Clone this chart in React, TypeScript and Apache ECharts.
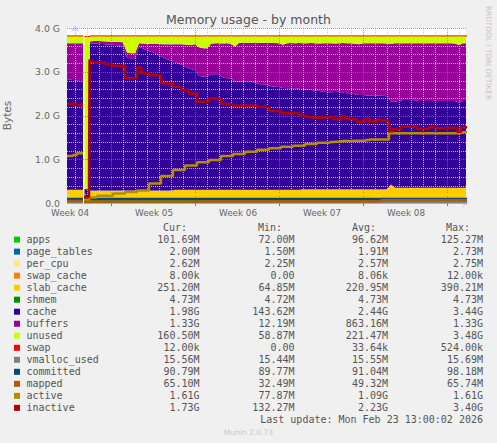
import React, { useEffect, useRef } from 'react';
import * as echarts from 'echarts';

// sample times in hours (0 = first daily grid line)
const HOURS = [
  -16, -8, 0, 8, 16, 17, 19, 24, 28, 30,
  32, 40, 48, 56, 64, 72, 80, 88, 96, 104,
  112, 120, 128, 136, 144, 152, 160, 168, 176, 184,
  192, 200, 208, 216, 224, 232, 240, 248, 256, 264,
  272, 280, 288, 296, 304, 312, 320, 328, 336, 344,
  352, 360, 368, 376, 384, 392, 400, 408, 416, 424,
  432, 440, 448, 456, 464, 472, 480, 488, 496, 504,
  512, 520, 528, 536, 544, 552, 560, 568, 576, 584,
  592, 600, 608, 616, 624, 632, 640, 648, 656, 664,
  672, 680, 688, 696, 704, 712, 720, 728, 736, 744,
  752, 760, 768, 776, 784,
];

// values in GiB
const APPS = [
  0.094, 0.094, 0.094, 0.094, 0.094, null, 0.071, 0.071, 0.071, 0.088,
  0.088, 0.088, 0.088, 0.088, 0.088, 0.088, 0.088, 0.088, 0.088, 0.088,
  0.088, 0.088, 0.088, 0.088, 0.088, 0.088, 0.088, 0.088, 0.088, 0.088,
  0.088, 0.088, 0.088, 0.088, 0.088, 0.088, 0.088, 0.088, 0.088, 0.088,
  0.088, 0.094, 0.094, 0.094, 0.094, 0.094, 0.094, 0.094, 0.094, 0.094,
  0.094, 0.094, 0.094, 0.094, 0.094, 0.094, 0.094, 0.094, 0.094, 0.094,
  0.094, 0.094, 0.094, 0.094, 0.094, 0.094, 0.094, 0.094, 0.094, 0.094,
  0.094, 0.094, 0.094, 0.094, 0.094, 0.094, 0.094, 0.094, 0.094, 0.094,
  0.094, 0.094, 0.094, 0.094, 0.099, 0.099, 0.099, 0.099, 0.099, 0.099,
  0.099, 0.099, 0.099, 0.099, 0.099, 0.099, 0.099, 0.099, 0.099, 0.099,
  0.099, 0.099, 0.099, 0.099, 0.099,
];
const PAGE_TABLES = [
  0.002, 0.002, 0.002, 0.002, 0.002, null, 0.0015, 0.0015, 0.0015, 0.002,
  0.002, 0.002, 0.002, 0.002, 0.002, 0.002, 0.002, 0.002, 0.002, 0.002,
  0.002, 0.002, 0.002, 0.002, 0.002, 0.002, 0.002, 0.002, 0.002, 0.002,
  0.002, 0.002, 0.002, 0.002, 0.002, 0.002, 0.002, 0.002, 0.002, 0.002,
  0.002, 0.002, 0.002, 0.002, 0.002, 0.002, 0.002, 0.002, 0.002, 0.002,
  0.002, 0.002, 0.002, 0.002, 0.002, 0.002, 0.002, 0.002, 0.002, 0.002,
  0.002, 0.002, 0.002, 0.002, 0.002, 0.002, 0.002, 0.002, 0.002, 0.002,
  0.002, 0.002, 0.002, 0.002, 0.002, 0.002, 0.002, 0.002, 0.002, 0.002,
  0.002, 0.002, 0.002, 0.002, 0.002, 0.002, 0.002, 0.002, 0.002, 0.002,
  0.002, 0.002, 0.002, 0.002, 0.002, 0.002, 0.002, 0.002, 0.002, 0.002,
  0.002, 0.002, 0.002, 0.002, 0.002,
];
const PER_CPU = [
  0.0026, 0.0026, 0.0026, 0.0026, 0.0026, null, 0.0022, 0.0022, 0.0022, 0.0026,
  0.0026, 0.0026, 0.0026, 0.0026, 0.0026, 0.0026, 0.0026, 0.0026, 0.0026, 0.0026,
  0.0026, 0.0026, 0.0026, 0.0026, 0.0026, 0.0026, 0.0026, 0.0026, 0.0026, 0.0026,
  0.0026, 0.0026, 0.0026, 0.0026, 0.0026, 0.0026, 0.0026, 0.0026, 0.0026, 0.0026,
  0.0026, 0.0026, 0.0026, 0.0026, 0.0026, 0.0026, 0.0026, 0.0026, 0.0026, 0.0026,
  0.0026, 0.0026, 0.0026, 0.0026, 0.0026, 0.0026, 0.0026, 0.0026, 0.0026, 0.0026,
  0.0026, 0.0026, 0.0026, 0.0026, 0.0026, 0.0026, 0.0026, 0.0026, 0.0026, 0.0026,
  0.0026, 0.0026, 0.0026, 0.0026, 0.0026, 0.0026, 0.0026, 0.0026, 0.0026, 0.0026,
  0.0026, 0.0026, 0.0026, 0.0026, 0.0026, 0.0026, 0.0026, 0.0026, 0.0026, 0.0026,
  0.0026, 0.0026, 0.0026, 0.0026, 0.0026, 0.0026, 0.0026, 0.0026, 0.0026, 0.0026,
  0.0026, 0.0026, 0.0026, 0.0026, 0.0026,
];
const SWAP_CACHE = [
  0.00001, 0.00001, 0.00001, 0.00001, 0.00001, null, 0, 0, 0, 0.00001,
  0.00001, 0.00001, 0.00001, 0.00001, 0.00001, 0.00001, 0.00001, 0.00001, 0.00001, 0.00001,
  0.00001, 0.00001, 0.00001, 0.00001, 0.00001, 0.00001, 0.00001, 0.00001, 0.00001, 0.00001,
  0.00001, 0.00001, 0.00001, 0.00001, 0.00001, 0.00001, 0.00001, 0.00001, 0.00001, 0.00001,
  0.00001, 0.00001, 0.00001, 0.00001, 0.00001, 0.00001, 0.00001, 0.00001, 0.00001, 0.00001,
  0.00001, 0.00001, 0.00001, 0.00001, 0.00001, 0.00001, 0.00001, 0.00001, 0.00001, 0.00001,
  0.00001, 0.00001, 0.00001, 0.00001, 0.00001, 0.00001, 0.00001, 0.00001, 0.00001, 0.00001,
  0.00001, 0.00001, 0.00001, 0.00001, 0.00001, 0.00001, 0.00001, 0.00001, 0.00001, 0.00001,
  0.00001, 0.00001, 0.00001, 0.00001, 0.00001, 0.00001, 0.00001, 0.00001, 0.00001, 0.00001,
  0.00001, 0.00001, 0.00001, 0.00001, 0.00001, 0.00001, 0.00001, 0.00001, 0.00001, 0.00001,
  0.00001, 0.00001, 0.00001, 0.00001, 0.00001,
];
const SLAB_CACHE = [
  0.198, 0.198, 0.198, 0.198, 0.198, null, 0.063, 0.063, 0.063, 0.190,
  0.190, 0.190, 0.190, 0.190, 0.190, 0.190, 0.190, 0.190, 0.190, 0.190,
  0.190, 0.190, 0.190, 0.190, 0.190, 0.190, 0.190, 0.190, 0.190, 0.190,
  0.190, 0.204, 0.204, 0.204, 0.204, 0.204, 0.204, 0.204, 0.204, 0.204,
  0.204, 0.198, 0.198, 0.198, 0.198, 0.198, 0.198, 0.198, 0.198, 0.198,
  0.198, 0.198, 0.198, 0.198, 0.198, 0.198, 0.198, 0.198, 0.198, 0.198,
  0.198, 0.198, 0.198, 0.211, 0.211, 0.211, 0.211, 0.211, 0.211, 0.211,
  0.211, 0.211, 0.211, 0.211, 0.211, 0.211, 0.211, 0.211, 0.211, 0.211,
  0.211, 0.211, 0.211, 0.211, 0.211, 0.316, 0.240, 0.240, 0.240, 0.240,
  0.240, 0.240, 0.240, 0.240, 0.240, 0.240, 0.240, 0.240, 0.240, 0.240,
  0.240, 0.240, 0.240, 0.240, 0.240,
];
const SHMEM = [
  0.0046, 0.0046, 0.0046, 0.0046, 0.0046, null, 0.0045, 0.0045, 0.0045, 0.0046,
  0.0046, 0.0046, 0.0046, 0.0046, 0.0046, 0.0046, 0.0046, 0.0046, 0.0046, 0.0046,
  0.0046, 0.0046, 0.0046, 0.0046, 0.0046, 0.0046, 0.0046, 0.0046, 0.0046, 0.0046,
  0.0046, 0.0046, 0.0046, 0.0046, 0.0046, 0.0046, 0.0046, 0.0046, 0.0046, 0.0046,
  0.0046, 0.0046, 0.0046, 0.0046, 0.0046, 0.0046, 0.0046, 0.0046, 0.0046, 0.0046,
  0.0046, 0.0046, 0.0046, 0.0046, 0.0046, 0.0046, 0.0046, 0.0046, 0.0046, 0.0046,
  0.0046, 0.0046, 0.0046, 0.0046, 0.0046, 0.0046, 0.0046, 0.0046, 0.0046, 0.0046,
  0.0046, 0.0046, 0.0046, 0.0046, 0.0046, 0.0046, 0.0046, 0.0046, 0.0046, 0.0046,
  0.0046, 0.0046, 0.0046, 0.0046, 0.0046, 0.0046, 0.0046, 0.0046, 0.0046, 0.0046,
  0.0046, 0.0046, 0.0046, 0.0046, 0.0046, 0.0046, 0.0046, 0.0046, 0.0046, 0.0046,
  0.0046, 0.0046, 0.0046, 0.0046, 0.0046,
];
const CACHE = [
  2.525, 2.516, 2.503, 2.487, 2.480, null, 0.17, 0.17, 0.17, 3.358,
  3.358, 3.358, 3.346, 3.346, 3.335, 3.335, 3.323, 3.312, 3.289, 3.032,
  3.019, 3.019, 3.285, 3.242, 3.207, 3.172, 3.137, 3.082, 3.042, 2.997,
  2.962, 2.914, 2.883, 2.848, 2.798, 2.763, 2.738, 2.601, 2.588, 2.598,
  2.640, 2.640, 2.640, 2.568, 2.548, 2.548, 2.471, 2.471, 2.471, 2.488,
  2.471, 2.443, 2.411, 2.411, 2.398, 2.368, 2.358, 2.348, 2.328, 2.320,
  2.320, 2.320, 2.313, 2.285, 2.275, 2.268, 2.260, 2.245, 2.230, 2.215,
  2.215, 2.225, 2.229, 2.205, 2.192, 2.192, 2.165, 2.154, 2.154, 2.145,
  2.138, 2.138, 2.138, 2.138, 2.120, 1.890, 1.966, 1.981, 2.005, 2.005,
  2.005, 2.001, 1.982, 1.982, 1.982, 1.982, 1.986, 1.982, 1.982, 1.982,
  1.982, 1.982, 1.951, 1.982, 1.982,
];
const BUFFERS = [
  0.823, 0.832, 0.845, 0.861, 0.868, null, 0.012, 0.012, 0.012, 0.044,
  0.054, 0.057, 0.069, 0.066, 0.067, 0.064, 0.076, 0.080, 0.096, 0.120,
  0.115, 0.115, 0.077, 0.115, 0.145, 0.175, 0.215, 0.265, 0.300, 0.342,
  0.380, 0.411, 0.445, 0.477, 0.520, 0.550, 0.587, 0.657, 0.646, 0.640,
  0.698, 0.708, 0.708, 0.775, 0.800, 0.790, 0.807, 0.887, 0.887, 0.875,
  0.892, 0.915, 0.952, 0.947, 0.965, 0.990, 1.000, 1.005, 0.990, 1.033,
  1.038, 1.033, 1.045, 1.050, 1.065, 1.077, 1.075, 1.085, 1.110, 1.125,
  1.120, 1.105, 1.111, 1.140, 1.148, 1.143, 1.160, 1.158, 1.181, 1.195,
  1.202, 1.197, 1.202, 1.197, 1.205, 1.325, 1.335, 1.325, 1.296, 1.301,
  1.296, 1.305, 1.319, 1.324, 1.319, 1.324, 1.315, 1.324, 1.319, 1.324,
  1.319, 1.314, 1.310, 1.319, 1.319,
];
const UNUSED = [
  0.170, 0.170, 0.170, 0.170, 0.170, null, 3.48, 3.48, 3.48, 0.130,
  0.120, 0.117, 0.117, 0.120, 0.130, 0.133, 0.133, 0.140, 0.147, 0.380,
  0.398, 0.398, 0.170, 0.175, 0.180, 0.185, 0.180, 0.185, 0.190, 0.193,
  0.190, 0.193, 0.190, 0.193, 0.200, 0.205, 0.193, 0.260, 0.284, 0.280,
  0.180, 0.170, 0.170, 0.175, 0.170, 0.180, 0.240, 0.160, 0.160, 0.155,
  0.155, 0.160, 0.155, 0.160, 0.155, 0.160, 0.160, 0.165, 0.200, 0.165,
  0.160, 0.165, 0.160, 0.170, 0.165, 0.160, 0.170, 0.175, 0.165, 0.165,
  0.170, 0.175, 0.165, 0.160, 0.165, 0.170, 0.180, 0.193, 0.170, 0.165,
  0.165, 0.170, 0.165, 0.170, 0.175, 0.180, 0.170, 0.165, 0.170, 0.165,
  0.170, 0.165, 0.170, 0.165, 0.170, 0.165, 0.170, 0.165, 0.170, 0.165,
  0.170, 0.175, 0.210, 0.170, 0.170,
];
const SWAP = [
  0.00001, 0.00001, 0.00001, 0.00001, 0.00001, null, 0, 0, 0, 0.00001,
  0.00001, 0.00001, 0.00001, 0.00001, 0.00001, 0.00001, 0.00001, 0.00001, 0.00001, 0.00001,
  0.00001, 0.00001, 0.00001, 0.00001, 0.00001, 0.00001, 0.00001, 0.00001, 0.00001, 0.00001,
  0.00001, 0.00001, 0.00001, 0.00001, 0.00001, 0.00001, 0.00001, 0.00001, 0.00001, 0.00001,
  0.00001, 0.00001, 0.00001, 0.00001, 0.00001, 0.00001, 0.00001, 0.00001, 0.00001, 0.00001,
  0.00001, 0.00001, 0.00001, 0.00001, 0.00001, 0.00001, 0.00001, 0.00001, 0.00001, 0.00001,
  0.00001, 0.00001, 0.00001, 0.00001, 0.00001, 0.00001, 0.00001, 0.00001, 0.00001, 0.00001,
  0.00001, 0.00001, 0.00001, 0.00001, 0.00001, 0.00001, 0.00001, 0.00001, 0.00001, 0.00001,
  0.00001, 0.00001, 0.00001, 0.00001, 0.00001, 0.00001, 0.00001, 0.00001, 0.00001, 0.00001,
  0.00001, 0.00001, 0.00001, 0.00001, 0.00001, 0.00001, 0.00001, 0.00001, 0.00001, 0.00001,
  0.00001, 0.00001, 0.00001, 0.00001, 0.00001,
];
const VMALLOC_USED = [
  0.0152, 0.0152, 0.0152, 0.0152, 0.0152, null, 0.0151, 0.0151, 0.0151, 0.0152,
  0.0152, 0.0152, 0.0152, 0.0152, 0.0152, 0.0152, 0.0152, 0.0152, 0.0152, 0.0152,
  0.0152, 0.0152, 0.0152, 0.0152, 0.0152, 0.0152, 0.0152, 0.0152, 0.0152, 0.0152,
  0.0152, 0.0152, 0.0152, 0.0152, 0.0152, 0.0152, 0.0152, 0.0152, 0.0152, 0.0152,
  0.0152, 0.0152, 0.0152, 0.0152, 0.0152, 0.0152, 0.0152, 0.0152, 0.0152, 0.0152,
  0.0152, 0.0152, 0.0152, 0.0152, 0.0152, 0.0152, 0.0152, 0.0152, 0.0152, 0.0152,
  0.0152, 0.0152, 0.0152, 0.0152, 0.0152, 0.0152, 0.0152, 0.0152, 0.0152, 0.0152,
  0.0152, 0.0152, 0.0152, 0.0152, 0.0152, 0.0152, 0.0152, 0.0152, 0.0152, 0.0152,
  0.0152, 0.0152, 0.0152, 0.0152, 0.0152, 0.0152, 0.0152, 0.0152, 0.0152, 0.0152,
  0.0152, 0.0152, 0.0152, 0.0152, 0.0152, 0.0152, 0.0152, 0.0152, 0.0152, 0.0152,
  0.0152, 0.0152, 0.0152, 0.0152, 0.0152,
];
const COMMITTED = [
  0.0887, 0.0887, 0.0887, 0.0887, 0.0887, null, 0.0935, 0.0935, 0.0935, 0.0887,
  0.0887, 0.0887, 0.0887, 0.0887, 0.0887, 0.0887, 0.0887, 0.0887, 0.0887, 0.0887,
  0.0887, 0.0887, 0.0887, 0.0887, 0.0887, 0.0887, 0.0887, 0.0887, 0.0887, 0.0887,
  0.0887, 0.0887, 0.0887, 0.0887, 0.0887, 0.0887, 0.0887, 0.0887, 0.0887, 0.0887,
  0.0887, 0.0887, 0.0887, 0.0887, 0.0887, 0.0887, 0.0887, 0.0887, 0.0887, 0.0887,
  0.0887, 0.0887, 0.0887, 0.0887, 0.0887, 0.0887, 0.0887, 0.0887, 0.0887, 0.0887,
  0.0887, 0.0887, 0.0887, 0.0887, 0.0887, 0.0887, 0.0887, 0.0887, 0.0887, 0.0887,
  0.0887, 0.0887, 0.0887, 0.0887, 0.0887, 0.0887, 0.0887, 0.0887, 0.0887, 0.0887,
  0.0887, 0.0887, 0.0887, 0.0887, 0.0887, 0.0887, 0.0887, 0.0887, 0.0887, 0.0887,
  0.0887, 0.0887, 0.0887, 0.0887, 0.0887, 0.0887, 0.0887, 0.0887, 0.0887, 0.0887,
  0.0887, 0.0887, 0.0887, 0.0887, 0.0887,
];
const MAPPED = [
  0.046, 0.046, 0.046, 0.046, 0.046, null, 0.031, 0.031, 0.031, 0.033,
  0.033, 0.033, 0.033, 0.033, 0.033, 0.033, 0.033, 0.033, 0.033, 0.033,
  0.033, 0.033, 0.033, 0.033, 0.033, 0.033, 0.033, 0.033, 0.033, 0.033,
  0.033, 0.033, 0.033, 0.033, 0.033, 0.033, 0.033, 0.042, 0.042, 0.042,
  0.042, 0.042, 0.042, 0.042, 0.042, 0.042, 0.042, 0.042, 0.042, 0.042,
  0.042, 0.042, 0.042, 0.042, 0.042, 0.042, 0.042, 0.042, 0.042, 0.042,
  0.042, 0.042, 0.042, 0.042, 0.042, 0.042, 0.042, 0.042, 0.042, 0.042,
  0.042, 0.042, 0.042, 0.042, 0.042, 0.042, 0.042, 0.042, 0.042, 0.042,
  0.042, 0.042, 0.042, 0.0635, 0.0635, 0.0635, 0.0635, 0.0635, 0.0635, 0.0635,
  0.0635, 0.0635, 0.0635, 0.0635, 0.0635, 0.0635, 0.0635, 0.0635, 0.0635, 0.0635,
  0.0635, 0.0635, 0.0635, 0.0635, 0.0635,
];
const ACTIVE = [
  1.074, 1.074, 1.097, 1.136, 1.136, null, 0.078, 0.078, 0.078, 0.126,
  0.126, 0.126, 0.167, 0.167, 0.167, 0.167, 0.220, 0.220, 0.220, 0.250,
  0.250, 0.250, 0.285, 0.285, 0.285, 0.446, 0.446, 0.446, 0.617, 0.617,
  0.617, 0.754, 0.754, 0.754, 0.857, 0.857, 0.857, 0.930, 0.930, 0.930,
  0.983, 0.983, 0.983, 1.074, 1.074, 1.074, 1.120, 1.120, 1.120, 1.170,
  1.170, 1.170, 1.220, 1.220, 1.220, 1.250, 1.250, 1.250, 1.287, 1.287,
  1.287, 1.310, 1.310, 1.310, 1.350, 1.350, 1.350, 1.380, 1.380, 1.380,
  1.394, 1.400, 1.400, 1.417, 1.417, 1.417, 1.424, 1.424, 1.424, 1.440,
  1.450, 1.450, 1.450, 1.450, 1.450, 1.593, 1.593, 1.593, 1.593, 1.593,
  1.593, 1.593, 1.593, 1.593, 1.593, 1.593, 1.593, 1.593, 1.593, 1.593,
  1.593, 1.593, 1.593, 1.616, 1.616,
];
const INACTIVE = [
  2.270, 2.270, 2.263, 2.240, 2.224, null, 0.130, 0.130, 0.132, 3.270,
  3.223, 3.207, 3.207, 3.207, 3.170, 3.170, 3.138, 3.138, 3.138, 2.850,
  2.850, 2.860, 3.100, 2.965, 2.965, 2.926, 2.926, 2.926, 2.736, 2.736,
  2.736, 2.658, 2.658, 2.583, 2.583, 2.491, 2.507, 2.315, 2.315, 2.315,
  2.393, 2.393, 2.393, 2.270, 2.260, 2.260, 2.224, 2.224, 2.224, 2.224,
  2.224, 2.224, 2.201, 2.201, 2.201, 2.103, 2.103, 2.103, 2.050, 2.050,
  2.050, 2.050, 2.034, 2.000, 1.970, 1.955, 1.955, 1.955, 1.960, 1.960,
  1.970, 1.913, 1.913, 1.970, 1.920, 1.920, 1.910, 1.858, 1.858, 1.930,
  1.858, 1.858, 1.910, 1.881, 1.880, 1.640, 1.691, 1.691, 1.744, 1.744,
  1.744, 1.744, 1.691, 1.691, 1.691, 1.730, 1.730, 1.707, 1.707, 1.721,
  1.721, 1.721, 1.630, 1.730, 1.730,
];

const NAMES = ['apps', 'page_tables', 'per_cpu', 'swap_cache', 'slab_cache', 'shmem', 'cache', 'buffers', 'unused', 'swap', 'vmalloc_used', 'committed', 'mapped', 'active', 'inactive'];
const COLORS = ['#00cc00', '#0066b3', '#ffe680', '#ff8000', '#ffcc00', '#008f00', '#330099', '#990099', '#ccff00', '#ff0000', '#808080', '#00487d', '#b35a00', '#b38f00', '#b30000'];
const CUR = ['101.69M', '2.00M', '2.62M', '8.00k', '251.20M', '4.73M', '1.98G', '1.33G', '160.50M', '12.00k', '15.56M', '90.79M', '65.10M', '1.61G', '1.73G'];
const MIN = ['72.00M', '1.50M', '2.25M', '0.00', '64.85M', '4.72M', '143.62M', '12.19M', '58.87M', '0.00', '15.44M', '89.77M', '32.49M', '77.87M', '132.27M'];
const AVG = ['96.62M', '1.91M', '2.57M', '8.06k', '220.95M', '4.73M', '2.44G', '863.16M', '221.47M', '33.64k', '15.55M', '91.04M', '49.32M', '1.09G', '2.23G'];
const MAX = ['125.27M', '2.73M', '2.75M', '12.00k', '390.21M', '4.73M', '3.44G', '1.33G', '3.48G', '524.00k', '15.69M', '98.18M', '65.74M', '1.61G', '3.40G'];
const HEADERS = ['Cur:', 'Min:', 'Avg:', 'Max:'];

const WEEK_LABEL_HOURS = [-10, 158, 326, 494, 662];
const WEEK_LABELS = ['Week 04', 'Week 05', 'Week 06', 'Week 07', 'Week 08'];
const WEEK_HOURS = [72, 240, 408, 576, 744];
const DAY_HOURS = [0, 24, 48, 96, 120, 144, 168, 192, 216, 264, 288, 312, 336, 360, 384, 432, 456, 480, 504, 528, 552, 600, 624, 648, 672, 696, 720, 768];
const Y_MINOR = [0.2, 0.4, 0.6, 0.8, 1.2, 1.4, 1.6, 1.8, 2.2, 2.4, 2.6, 2.8, 3.2, 3.4, 3.6, 3.8];
const Y_MAJOR = [1, 2, 3, 4];

const TITLE = 'Memory usage - by month';
const LAST_UPDATE = 'Last update: Mon Feb 23 13:00:02 2026';
const WATERMARK = 'RRDTOOL / TOBI OETIKER';
const FOOTER = 'Munin 2.0.73';

const STACKED = [APPS, PAGE_TABLES, PER_CPU, SWAP_CACHE, SLAB_CACHE, SHMEM, CACHE, BUFFERS, UNUSED, SWAP];
const LINES = [VMALLOC_USED, COMMITTED, MAPPED, ACTIVE, INACTIVE];

const SANS = '"DejaVu Sans", sans-serif';
const MONO = '"DejaVu Sans Mono", monospace';
const Y_MIN = 0;
const Y_MAX = 4;
const X_MIN = -16;
const X_MAX = 782;

const GRID_MINOR = 'rgba(205,205,205,0.9)';
const GRID_MAJOR = 'rgba(255,70,70,0.75)';

// value first, time second: the stack is then computed on the value dimension
function pairs(arr: (number | null)[]) {
  return HOURS.map((h, i) => [arr[i] == null ? '-' : arr[i], h]);
}
const ENCODE = { x: 1, y: 0 };

function buildOption() {
  const series: any[] = [];
  STACKED.forEach((arr, i) => {
    const isSwap = NAMES[i] === 'swap';
    series.push({
      name: NAMES[i],
      type: 'line',
      stack: 'mem',
      data: pairs(arr),
      encode: ENCODE,
      symbol: 'none',
      showSymbol: false,
      connectNulls: false,
      silent: true,
      z: 2,
      lineStyle: isSwap ? { width: 1, color: COLORS[i] } : { width: 0, color: COLORS[i] },
      areaStyle: { color: COLORS[i], opacity: 1 },
    });
  });

  // vertical grid (days / weeks), drawn over the areas like rrdtool does
  const vData = [...DAY_HOURS.map((h) => [h, 0]), ...WEEK_HOURS.map((h) => [h, 1])];
  series.push({
    name: 'vgrid',
    type: 'custom',
    coordinateSystem: 'cartesian2d',
    silent: true,
    z: 3,
    encode: { x: 0 },
    data: vData,
    renderItem: (params: any, api: any) => {
      const h = api.value(0);
      const major = api.value(1) === 1;
      const top = api.coord([h, Y_MAX]);
      const bot = api.coord([h, Y_MIN]);
      const x = Math.round(bot[0]) + 0.5;
      const children: any[] = [
        { type: 'line', shape: { x1: x, y1: top[1], x2: x, y2: bot[1] }, style: { stroke: major ? GRID_MAJOR : GRID_MINOR, lineWidth: 1, lineDash: [1, 1] } },
      ];
      if (major) {
        children.push({ type: 'line', shape: { x1: x, y1: bot[1], x2: x, y2: bot[1] + 3 }, style: { stroke: '#ff4040', lineWidth: 1 } });
      }
      return { type: 'group', children };
    },
  });
  // horizontal grid
  const hData = [...Y_MINOR.map((v) => [X_MIN, v, 0]), ...Y_MAJOR.map((v) => [X_MIN, v, 1])];
  series.push({
    name: 'hgrid',
    type: 'custom',
    coordinateSystem: 'cartesian2d',
    silent: true,
    z: 3,
    encode: { x: 0, y: 1 },
    data: hData,
    renderItem: (params: any, api: any) => {
      const v = api.value(1);
      const major = api.value(2) === 1;
      const l = api.coord([X_MIN, v]);
      const r = api.coord([X_MAX, v]);
      const y = Math.round(l[1]) + 0.5;
      return { type: 'line', shape: { x1: l[0], y1: y, x2: r[0], y2: y }, style: { stroke: major ? GRID_MAJOR : GRID_MINOR, lineWidth: 1, lineDash: [1, 1] } };
    },
  });

  LINES.forEach((arr, j) => {
    const i = STACKED.length + j;
    series.push({
      name: NAMES[i],
      type: 'line',
      data: pairs(arr),
      encode: ENCODE,
      symbol: 'none',
      showSymbol: false,
      connectNulls: false,
      step: 'middle',
      silent: true,
      z: 4,
      lineStyle: { width: 2.5, color: COLORS[i] },
    });
  });

  const graphic: any[] = [];
  graphic.push({
    type: 'text', x: 248.5, y: 19,
    style: { text: TITLE, font: `12.5px ${SANS}`, fill: '#555555', align: 'center', verticalAlign: 'middle', textAlign: 'center', textVerticalAlign: 'middle' },
  });
  graphic.push({
    type: 'text', x: 488, y: 53, rotation: -Math.PI / 2,
    style: { text: WATERMARK, font: `7.3px ${SANS}`, fill: '#c4c4c4', align: 'center', verticalAlign: 'middle', textAlign: 'center', textVerticalAlign: 'middle' },
  });

  const colRight = [199.5, 294.5, 388, 483];
  const headRight = [187, 282, 376, 470];
  HEADERS.forEach((h, k) => {
    graphic.push({
      type: 'text', x: headRight[k], y: 227.5,
      style: { text: h, font: `10px ${MONO}`, fill: '#555555', align: 'right', verticalAlign: 'middle', textAlign: 'right', textVerticalAlign: 'middle' },
    });
  });
  NAMES.forEach((n, i) => {
    const y = 239.6 + i * 12.02;
    graphic.push({ type: 'rect', shape: { x: 14, y: y - 3, width: 6, height: 6 }, style: { fill: COLORS[i] } });
    graphic.push({
      type: 'text', x: 26.5, y,
      style: { text: n, font: `10px ${MONO}`, fill: '#555555', align: 'left', verticalAlign: 'middle', textAlign: 'left', textVerticalAlign: 'middle' },
    });
    [CUR[i], MIN[i], AVG[i], MAX[i]].forEach((v, k) => {
      graphic.push({
        type: 'text', x: colRight[k], y,
        style: { text: v, font: `10px ${MONO}`, fill: '#555555', align: 'right', verticalAlign: 'middle', textAlign: 'right', textVerticalAlign: 'middle' },
      });
    });
  });
  graphic.push({
    type: 'text', x: 483, y: 419.5,
    style: { text: LAST_UPDATE, font: `10px ${MONO}`, fill: '#555555', align: 'right', verticalAlign: 'middle', textAlign: 'right', textVerticalAlign: 'middle' },
  });
  graphic.push({
    type: 'text', x: 248.5, y: 432,
    style: { text: FOOTER, font: `7.5px ${SANS}`, fill: '#c8c8c8', align: 'center', verticalAlign: 'middle', textAlign: 'center', textVerticalAlign: 'middle' },
  });

  return {
    animation: false,
    backgroundColor: '#f0f0f0',
    textStyle: { fontFamily: SANS },
    grid: { left: 67, top: 28, width: 399, height: 175, show: true, backgroundColor: '#ffffff', borderWidth: 0, containLabel: false, outerBoundsMode: 'none' },
    xAxis: {
      type: 'value',
      min: X_MIN,
      max: X_MAX,
      axisLine: { show: true, onZero: false, lineStyle: { color: '#CFD6F8', width: 1 }, symbol: ['none', 'arrow'], symbolSize: [7, 7], symbolOffset: [0, 3] },
      axisTick: { show: false },
      axisLabel: {
        show: true,
        customValues: WEEK_LABEL_HOURS,
        formatter: (v: number) => {
          const k = WEEK_LABEL_HOURS.indexOf(Math.round(v));
          return k >= 0 ? WEEK_LABELS[k] : '';
        },
        color: '#666666',
        fontSize: 8.8,
        fontFamily: SANS,
        margin: 5,
      },
      splitLine: { show: false },
    },
    yAxis: {
      type: 'value',
      min: Y_MIN,
      max: Y_MAX,
      interval: 1,
      name: 'Bytes',
      nameLocation: 'middle',
      nameGap: 55,
      nameTextStyle: { color: '#666666', fontSize: 10.5, fontFamily: SANS },
      axisLine: { show: true, lineStyle: { color: '#CFD6F8', width: 1 }, symbol: ['none', 'arrow'], symbolSize: [7, 7], symbolOffset: [0, 3] },
      axisTick: { show: false },
      axisLabel: {
        formatter: (v: number) => (v === 0 ? '0.0' : v.toFixed(1) + ' G'),
        color: '#666666',
        fontSize: 9.3,
        fontFamily: SANS,
        margin: 7,
      },
      splitLine: { show: false },
    },
    series,
    graphic,
  };
}

export default function App() {
  const ref = useRef<HTMLDivElement>(null);
  useEffect(() => {
    document.body.style.margin = '0';
    document.body.style.background = '#f0f0f0';
    const chart = echarts.init(ref.current as HTMLDivElement, null, { renderer: 'svg' });
    chart.setOption(buildOption() as any);
    return () => chart.dispose();
  }, []);
  return <div ref={ref} style={{ width: 497, height: 443, background: '#f0f0f0' }} />;
}
